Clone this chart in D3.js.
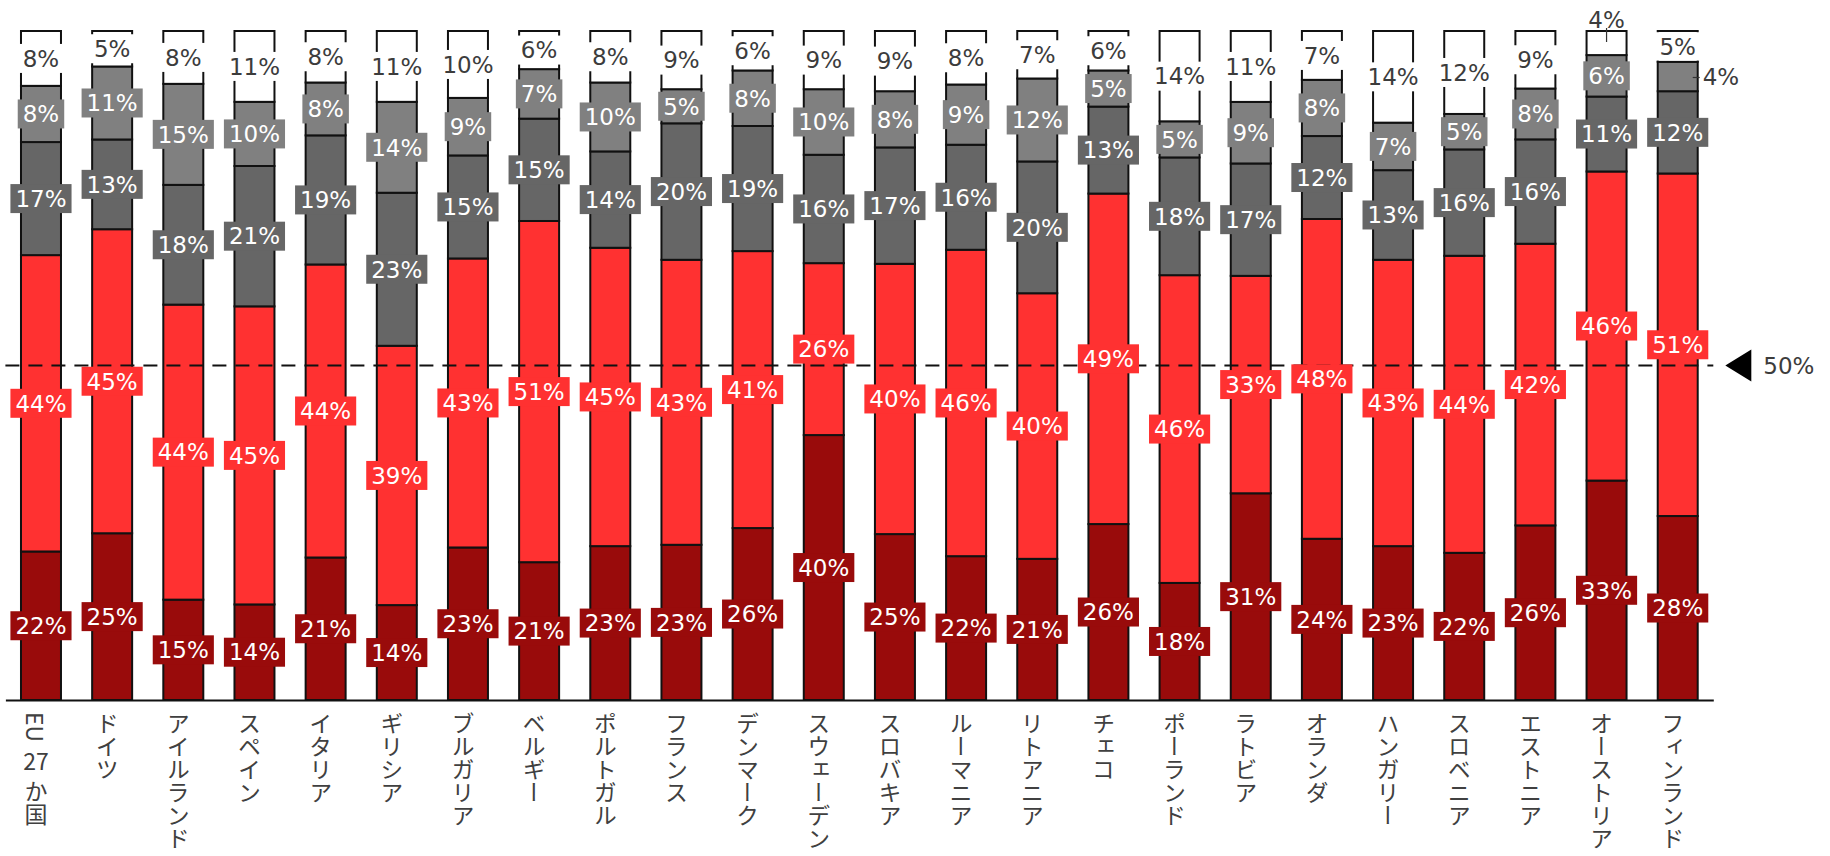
<!DOCTYPE html>
<html><head><meta charset="utf-8">
<script src="https://cdn.jsdelivr.net/npm/d3@7"></script>
<style>html,body{margin:0;padding:0;background:#fff;}svg{display:block;}</style>
</head><body>
<svg id="chart" width="1830" height="856"></svg>
<script>
// ---- data ----
const categories = ["EU27か国","ドイツ","アイルランド","スペイン","イタリア","ギリシア","ブルガリア","ベルギー","ポルトガル","フランス","デンマーク","スウェーデン","スロバキア","ルーマニア","リトアニア","チェコ","ポーランド","ラトビア","オランダ","ハンガリー","スロベニア","エストニア","オーストリア","フィンランド"];
const darkRed  = [22.2,24.9,15.0,14.3,21.3,14.2,22.8,20.6,23.0,23.2,25.7,39.6,24.8,21.5,21.1,26.3,17.5,30.9,24.1,23.0,22.0,26.1,32.8,27.5];
const red      = [44.3,45.4,44.1,44.6,43.8,38.8,43.2,51.0,44.6,42.6,41.4,25.7,40.4,45.8,39.7,49.4,46.0,32.5,47.8,42.8,44.4,42.1,46.2,51.2];
const darkGrey = [16.9,13.4,17.9,21.0,19.3,22.9,15.4,15.3,14.4,20.4,18.7,16.2,17.4,15.7,19.7,13.0,17.6,16.8,12.4,13.4,15.9,15.6,11.2,12.3];
const grey     = [8.4,10.9,15.1,9.6,7.9,13.6,8.6,7.4,10.3,5.1,8.3,9.8,8.4,9.0,12.4,5.4,5.4,9.2,8.4,7.1,5.3,7.6,6.2,4.4];
const white    = [8.2,5.3,7.9,10.6,7.7,10.6,10.0,5.7,7.7,8.7,5.9,8.7,9.0,8.0,7.1,5.9,13.5,10.6,7.3,13.7,12.4,8.6,3.6,4.6];
const seriesKeys = ["darkRed","red","darkGrey","grey","white"];
const referenceValue = 50;
const referenceLabel = "50%";

// ---- build table ----
const seriesData = {darkRed, red, darkGrey, grey, white};
const rows = categories.map((c,i)=>{
  const r = {cat:c};
  seriesKeys.forEach(k=>r[k]=seriesData[k][i]);
  return r;
});
const fills = {darkRed:"#990b0b", red:"#ff3131", darkGrey:"#666666", grey:"#808080", white:"#ffffff"};
const textFills = {darkRed:"#ffffff", red:"#ffffff", darkGrey:"#ffffff", grey:"#ffffff", white:"#3c3c3c"};

const svg = d3.select("#chart");
const x = d3.scaleBand().domain(categories).range([5.4, 1713.3]).paddingInner(0.438).paddingOuter(0.219);
const y = d3.scaleLinear().domain([0,1]).range([700,31]);
const bw = x.bandwidth();

const layers = d3.stack().keys(seriesKeys).offset(d3.stackOffsetExpand)(rows);

// bars
const gBars = svg.append("g");
layers.forEach(layer=>{
  gBars.selectAll(null).data(layer).join("rect")
    .attr("x", d=>x(d.data.cat))
    .attr("y", d=>y(d[1]))
    .attr("width", bw)
    .attr("height", d=>y(d[0])-y(d[1]))
    .attr("fill", fills[layer.key])
    .attr("stroke", "#111")
    .attr("stroke-width", 2);
});

// axis
const gAxis = svg.append("g").attr("transform","translate(0,700)")
  .call(d3.axisBottom(x).tickSize(0).tickSizeOuter(0).tickFormat(()=>""));
gAxis.select(".domain").attr("stroke","#111").attr("stroke-width",2);

// reference dashed line
const yRef = y(referenceValue/100);
const [r0, r1] = x.range();
svg.append("line").attr("x1",r0).attr("x2",r1).attr("y1",yRef).attr("y2",yRef)
  .attr("stroke","#111").attr("stroke-width",2).attr("stroke-dasharray","14,9");
svg.append("path")
  .attr("d", `M${r1+12},${yRef} L${r1+38},${yRef-16} L${r1+38},${yRef+16} Z`)
  .attr("fill","#000");
svg.append("text").attr("x", r1+50).attr("y", yRef).attr("dy","0.36em")
  .attr("font-family","'DejaVu Sans', Verdana, sans-serif").attr("font-size",23)
  .attr("fill","#3c3c3c").text(referenceLabel);

// value labels
const gLab = svg.append("g").attr("font-family","'DejaVu Sans', Verdana, sans-serif").attr("font-size",23);
layers.forEach(layer=>{
  const key = layer.key;
  layer.forEach(d=>{
    const v = d.data[key];
    const txt = Math.round(v) + "%";
    const x0 = x(d.data.cat);
    const cx = x0 + bw/2;
    const yTop = y(d[1]), yBot = y(d[0]);
    const cy = (yTop + yBot)/2;
    if (v < 4.5) {
      if (key === "white") {
        gLab.append("line").attr("x1",cx).attr("x2",cx).attr("y1",yTop-3).attr("y2",yTop+11)
          .attr("stroke","#333").attr("stroke-width",1.2);
        gLab.append("text").attr("x",cx).attr("y",yTop-11).attr("dy","0.36em")
          .attr("text-anchor","middle").attr("fill","#3c3c3c").text(txt);
      } else {
        gLab.append("line").attr("x1",x0+bw-5).attr("x2",x0+bw+2).attr("y1",cy+1).attr("y2",cy+1)
          .attr("stroke","#333").attr("stroke-width",1.2);
        gLab.append("text").attr("x",x0+bw+5).attr("y",cy).attr("dy","0.36em")
          .attr("fill","#3c3c3c").text(txt);
      }
      return;
    }
    const g = gLab.append("g");
    const rect = g.append("rect");
    const t = g.append("text").attr("x",cx).attr("y",cy).attr("dy","0.36em")
      .attr("text-anchor","middle").attr("fill",textFills[key]).text(txt);
    const tw = t.node().getComputedTextLength();
    let ry0 = cy - 14.5, ry1 = cy + 14.5;
    ry0 = Math.max(ry0, yTop + 1.2);
    ry1 = Math.min(ry1, yBot - 1.2);
    rect.attr("x", cx - tw/2 - 5).attr("width", tw + 10)
      .attr("y", ry0).attr("height", ry1 - ry0)
      .attr("fill", fills[key]);
  });
});

// category labels (vertical Japanese text, digits upright)
const gCat = svg.append("g").attr("font-family","'Noto Sans CJK JP', sans-serif").attr("font-size",23).attr("fill","#404040");
categories.forEach(c=>{
  const cx = x(c) + bw/2 - 5;
  let cy = 712;
  c.split(/(\d+)/).filter(s=>s.length).forEach(tok=>{
    if (/^\d+$/.test(tok)) {
      gCat.append("text").attr("x",cx).attr("y",cy+15.5).attr("dy","0.36em")
        .attr("text-anchor","middle").text(tok);
      cy += 34;
    } else {
      const t = gCat.append("text").attr("x",cx).attr("y",cy)
        .style("writing-mode","vertical-rl").text(tok);
      cy += t.node().getComputedTextLength() + 4;
    }
  });
});
</script>
</body></html>
